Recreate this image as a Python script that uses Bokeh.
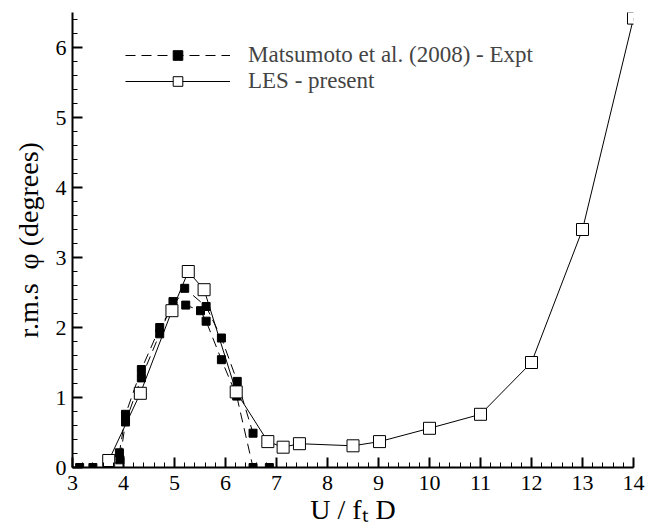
from bokeh.plotting import figure
from bokeh.models import Range1d, SingleIntervalTicker, Legend, LegendItem
from bokeh.embed import file_html
from bokeh.resources import INLINE

# ---- data ----
les_x = [3.71, 4.33, 4.95, 5.27, 5.58, 6.21, 6.83, 7.13, 7.45, 8.50, 9.02, 10.0, 11.0, 12.0, 13.0, 14.0]
les_y = [0.10, 1.06, 2.24, 2.80, 2.54, 1.08, 0.37, 0.29, 0.34, 0.31, 0.37, 0.56, 0.76, 1.50, 3.40, 6.42]

exp_x = [3.14, 3.40, 3.71, 3.92, 3.93, 4.04, 4.04, 4.35, 4.35, 4.71, 4.71, 4.97, 5.20, 5.22,
         5.51, 5.62, 5.62, 5.92, 5.92, 6.23, 6.22, 6.54, 6.54, 6.86]
exp_y = [0.0, 0.0, 0.0, 0.21, 0.11, 0.76, 0.65, 1.40, 1.28, 2.00, 1.91, 2.37, 2.56, 2.32,
         2.24, 2.30, 2.09, 1.85, 1.54, 1.23, 1.02, 0.49, 0.0, 0.0]

dash_a_x = [3.71, 3.92, 4.04, 4.35, 4.71, 5.20, 5.62, 5.92, 6.23, 6.54]
dash_a_y = [0.0, 0.21, 0.76, 1.40, 2.00, 2.56, 2.30, 1.85, 1.23, 0.49]
dash_b_x = [3.71, 3.93, 4.04, 4.35, 4.71, 4.97, 5.22, 5.51, 5.62, 5.92, 6.22, 6.54]
dash_b_y = [0.0, 0.11, 0.65, 1.28, 1.91, 2.37, 2.32, 2.24, 2.09, 1.54, 1.02, 0.0]

exp_label = "Matsumoto et al. (2008) - Expt"
les_label = "LES - present"
x_title = "U / f\u209c D"
y_title = "r.m.s\u00a0\u00a0\u03c6 (degrees)"

FONT = "Liberation Serif"

p = figure(width=649, height=531, x_range=Range1d(3, 14), y_range=Range1d(0, 6.5),
           output_backend="svg", toolbar_location=None,
           min_border_left=72, min_border_right=16, min_border_top=12, min_border_bottom=64)
p.outline_line_color = None
p.grid.visible = False
p.background_fill_color = "white"

for ax in (p.xaxis[0], p.yaxis[0]):
    ax.ticker = SingleIntervalTicker(interval=1, num_minor_ticks=5)
    ax.axis_line_width = 2
    ax.axis_line_color = "black"
    ax.major_tick_in = 10
    ax.major_tick_out = 0
    ax.minor_tick_in = 5
    ax.minor_tick_out = 0
    ax.major_tick_line_width = 2
    ax.minor_tick_line_width = 1
    ax.major_tick_line_color = "black"
    ax.minor_tick_line_color = "black"
    ax.major_label_text_font = FONT
    ax.major_label_text_font_size = "22px"
    ax.major_label_text_color = "black"
    ax.axis_label_text_font = FONT
    ax.axis_label_text_font_size = "28px"
    ax.axis_label_text_font_style = "normal"
    ax.axis_label_text_color = "black"
p.xaxis.major_label_standoff = 8
p.yaxis.major_label_standoff = 6
p.xaxis.axis_label = x_title
p.yaxis.axis_label = y_title
p.xaxis.axis_label_standoff = 1
p.yaxis.axis_label_standoff = 9

la = p.line(dash_a_x, dash_a_y, line_color="black", line_width=1, line_dash="10 6")
p.line(dash_b_x, dash_b_y, line_color="black", line_width=1, line_dash="10 6")
ll = p.line(les_x, les_y, line_color="black", line_width=1)
se = p.scatter(exp_x, exp_y, marker="square", size=8, fill_color="black", line_color="black")
sl = p.scatter(les_x, les_y, marker="square", size=12, fill_color="white", line_color="black", line_width=1)

legend = Legend(items=[LegendItem(label=exp_label, renderers=[la, se]),
                       LegendItem(label=les_label, renderers=[ll, sl])],
                location=(53, 373), padding=0, margin=0, spacing=0,
                glyph_width=105, glyph_height=24, label_height=20, label_standoff=18,
                label_text_font=FONT, label_text_font_size="23px",
                background_fill_alpha=0, border_line_color=None)
p.add_layout(legend, "center")

open("out.html", "w").write(file_html(p, INLINE))
